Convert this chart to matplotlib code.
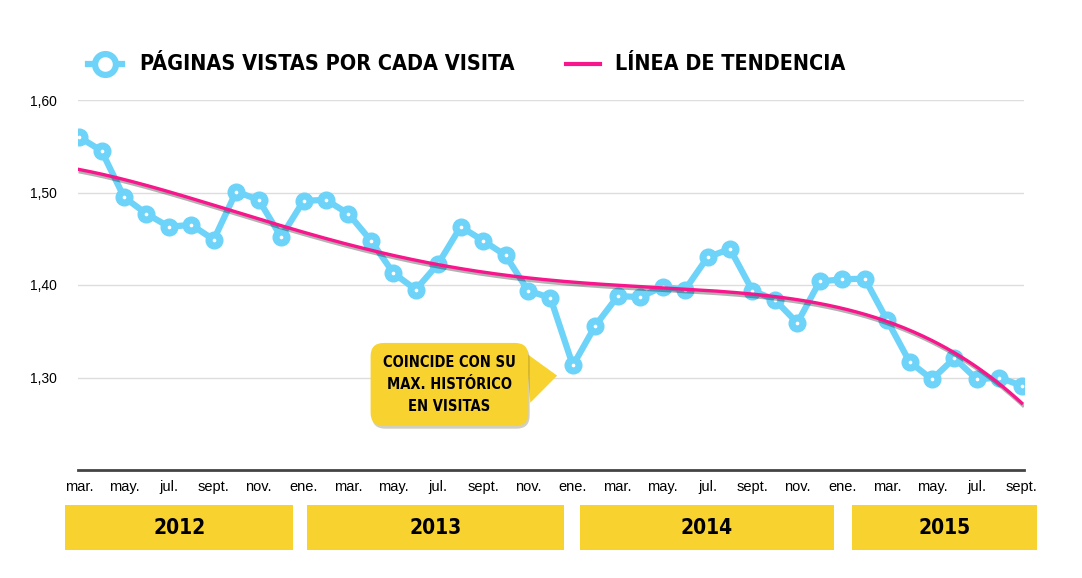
import numpy as np
import matplotlib.pyplot as plt
from matplotlib import font_manager
from matplotlib.font_manager import FontProperties
from matplotlib.lines import Line2D
from matplotlib.patches import Rectangle
import matplotlib.patheffects as pe
import matplotlib.transforms as mtransforms

# Páginas vistas por visita, mensual, mar. 2012 - sept. 2015
values = [1.560, 1.545, 1.495, 1.477, 1.463, 1.465, 1.449, 1.501, 1.492, 1.452,
          1.491, 1.492, 1.477, 1.448, 1.413, 1.395, 1.423, 1.463, 1.448, 1.432, 1.394, 1.386,
          1.313, 1.356, 1.388, 1.387, 1.398, 1.395, 1.430, 1.439, 1.394, 1.384, 1.359, 1.404,
          1.406, 1.407, 1.362, 1.317, 1.298, 1.321, 1.298, 1.300, 1.291]

tick_labels = ["mar.", "may.", "jul.", "sept.", "nov.",
               "ene.", "mar.", "may.", "jul.", "sept.", "nov.",
               "ene.", "mar.", "may.", "jul.", "sept.", "nov.",
               "ene.", "mar.", "may.", "jul.", "sept."]
years = ["2012", "2013", "2014", "2015"]
months_per_year = [10, 12, 12, 9]
y_ticks = [1.30, 1.40, 1.50, 1.60]

BLUE = "#6DD3F8"
PINK = "#F7168B"
YELLOW = "#F8D330"

names = {f.name for f in font_manager.fontManager.ttflist}
SANS = "Liberation Sans" if "Liberation Sans" in names else "DejaVu Sans"

# fuente estrecha y negrita: se prefiere la más estrecha disponible
rank = {"ultra-condensed": 0, "extra-condensed": 1, "condensed": 2, "semi-condensed": 3}
cands = []
for f in font_manager.fontManager.ttflist:
    st = str(f.stretch)
    fn = f.fname.lower()
    if st in rank:
        r = rank[st]
    elif "extracondensed" in fn:
        r = 1
    elif "condensed" in fn or "narrow" in fn:
        r = 2
    else:
        continue
    if f.weight in (700, "bold") or "bold" in fn:
        if "italic" in fn or "semibold" in fn or "extrabold" in fn:
            continue
        cands.append((r, f.fname))
cands.sort()
if cands:
    HEAD = dict(fontproperties=FontProperties(fname=cands[0][1]))
    extra = cands[0][0] <= 1
else:
    HEAD = dict(family=SANS, fontweight="bold")
    extra = False
k = 1.2 if extra else 1.0

W, H = 1082, 578
fig = plt.figure(figsize=(W / 100, H / 100), dpi=100)
ax = fig.add_axes([78 / W, 1 - 470 / H, (1024 - 78) / W, 370 / H])

x = np.arange(len(values))
ax.plot(x, values, color=BLUE, lw=4.5, marker="o", ms=12, mfc=BLUE, mec=BLUE,
        solid_joinstyle="round", zorder=3)
ax.scatter(x, values, s=7, color="white", zorder=4, linewidths=0)

# línea de tendencia polinómica
coef = np.polyfit(x, values, 4)
xs = np.linspace(0, len(values) - 1, 400)
ax.plot(xs, np.polyval(coef, xs), color=PINK, lw=2.4, zorder=5,
        path_effects=[pe.SimpleLineShadow(offset=(0.8, -1.8), shadow_color="k", alpha=0.3),
                      pe.Normal()])

ax.set_xlim(-0.05, len(values) - 1 + 0.1)
ax.set_ylim(1.2, 1.6)
ax.set_yticks(y_ticks)
ax.set_yticklabels([f"{v:.2f}".replace(".", ",") for v in y_ticks], family=SANS)
ax.set_xticks(x[::2])
ax.set_xticklabels(tick_labels, family=SANS)
ax.grid(axis="y", color="#DDDDDD", lw=1)
ax.set_axisbelow(True)
for s in ["left", "right", "top"]:
    ax.spines[s].set_visible(False)
ax.spines["bottom"].set_color("#444444")
ax.spines["bottom"].set_linewidth(2)
ax.tick_params(axis="y", length=0, pad=15, labelsize=10)
ax.tick_params(axis="x", length=0, pad=7, labelsize=10.5)

# cajas de años
trans = mtransforms.blended_transform_factory(ax.transData, fig.transFigure)
start = 0
for i, (yr, n) in enumerate(zip(years, months_per_year)):
    left = start + 0.15 * i if i > 0 else -0.62
    right = start + n - 1 + 0.55 + 0.05 * i
    fig.patches.append(Rectangle((left, 1 - 550 / H), right - left, 45 / H,
                                 transform=trans, fc=YELLOW, ec="none"))
    fig.text((left + right) / 2, 1 - 528 / H, yr, transform=trans, ha="center", va="center",
             fontsize=15 * k, **HEAD)
    start += n

# leyenda
ly = 1 - 64 / H
fig.add_artist(Line2D([88 / W, 122 / W], [ly, ly], transform=fig.transFigure, color=BLUE, lw=4.5))
fig.add_artist(Line2D([105 / W], [ly], transform=fig.transFigure, marker="o", ms=15,
                      mfc="white", mec=BLUE, mew=4.5))
fig.text(140 / W, ly, "PÁGINAS VISTAS POR CADA VISITA", va="center", fontsize=15.5 * k,
         **HEAD)
fig.add_artist(Line2D([566 / W, 600 / W], [ly, ly], transform=fig.transFigure, color=PINK, lw=3))
fig.text(615 / W, ly, "LÍNEA DE TENDENCIA", va="center", fontsize=15.5 * k, **HEAD)

# nota
note = ax.annotate("COINCIDE CON SU\nMAX. HISTÓRICO\nEN VISITAS",
                   xy=(21.3, 1.302), xytext=(16.5, 1.2925),
                   ha="center", va="center", fontsize=10.5 * k, linespacing=1.55, zorder=6,
                   bbox=dict(boxstyle="round,pad=0.85,rounding_size=0.9", fc=YELLOW, ec="none"),
                   arrowprops=dict(arrowstyle="wedge,tail_width=3.4,shrink_factor=0.5",
                                   fc=YELLOW, ec="none", shrinkA=0, shrinkB=0),
                   **HEAD)
note.get_bbox_patch().set_path_effects([pe.SimplePatchShadow(offset=(1, -2), alpha=0.25),
                                        pe.Normal()])

fig.savefig("out.png", dpi=100)
